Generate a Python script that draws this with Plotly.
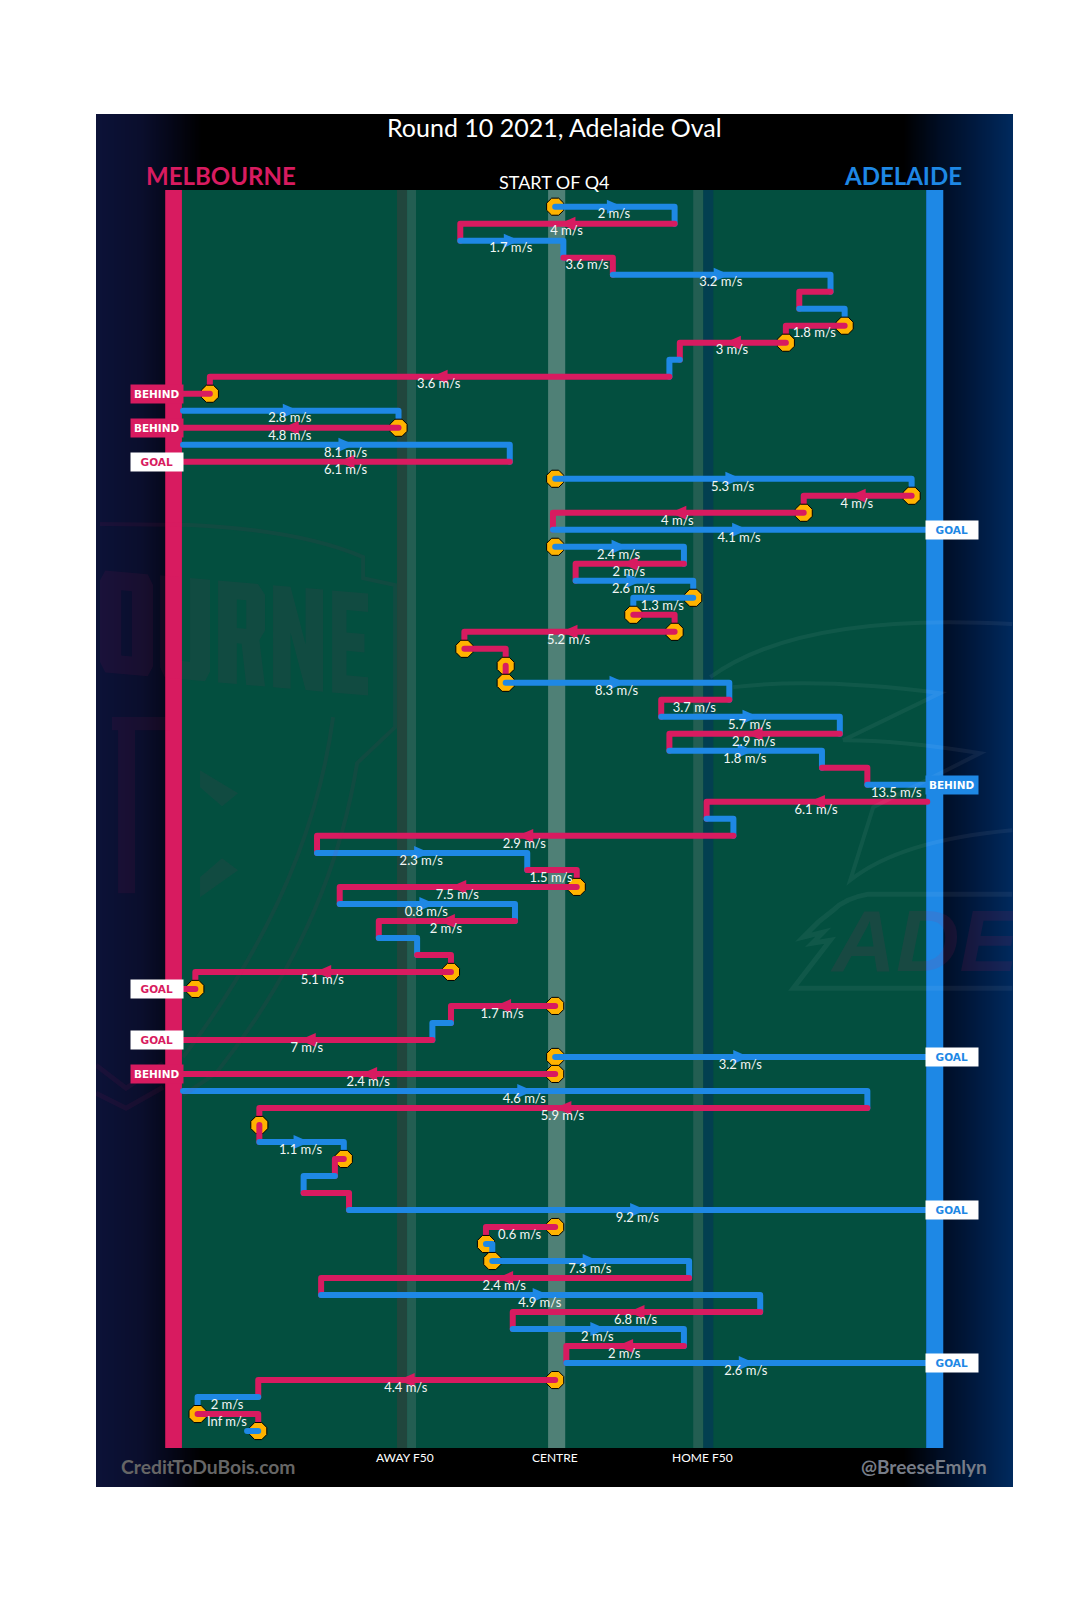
import numpy as np
import plotly.graph_objects as go

# ---- chain data: one entry per row of the chain (top to bottom) ----
x_start = [0, 32.1, -25.5, 2.2, 15.5, 74, 65.6, 77.8, 62, 33.5, 30.7, -92.8, -100, -42.1, -100, -12.2,
           0, 95.8, 66.8, -0.6, 0, 34.6, 5.5, 37.1, 21, 32.1, -24.4, -13.3, -13.3, 46.8, 28.5, 76.5,
           30.7, 71.7, 83.9, 100, 40.7, 47.9, -64, -7.5, 5.8, -57.9, -10.8, -47.4, -37.1, -28, -96.7,
           0, -28, -33, 0, 0, -100, 83.9, -79.5, -79.5, -56.8, -59.2, -67.6, -55.4, 0, -18.6, -16.9,
           36, -62.9, 55.1, -11.4, 34.6, 3, 0, -79.8, -96.1, -79.8]
x_end = [32.1, -25.5, 2.2, 15.5, 74, 65.6, 77.8, 62, 33.5, 30.7, -92.8, -100, -42.1, -100, -12.2, -100,
         95.8, 66.8, -0.6, 100, 34.6, 5.5, 37.1, 21, 32.1, -24.4, -13.3, -13.3, 46.8, 28.5, 76.5, 30.7,
         71.7, 83.9, 100, 40.7, 47.9, -64, -7.5, 5.8, -57.9, -10.8, -47.4, -37.1, -28, -96.7, -100,
         -28, -33, -100, 100, -100, 83.9, -79.5, -79.5, -56.8, -59.2, -67.6, -55.4, 100, -18.6, -16.9, 36,
         -62.9, 55.1, -11.4, 34.6, 3, 100, -79.8, -96.1, -79.8, -82.8]
teams = ("AMAMAMAMMAMMAMAM"     # rows 0-15
         "AMMA"                 # 16-19
         "AMAAMMMMA"            # 20-28
         "MAMAMA"               # 29-34
         "MAMAMMAMAMMM"         # 35-46
         "MAM"                  # 47-49
         "AM"                   # 50-51
         "AMMAMAMA"             # 52-59
         "MAA"                  # 60-62
         "MAMAMA"               # 63-68
         "MAMA")                # 69-72
speed = {0: "2", 1: "4", 2: "1.7", 3: "3.6", 4: "3.2", 7: "1.8", 8: "3", 10: "3.6", 12: "2.8", 13: "4.8",
         14: "8.1", 15: "6.1", 16: "5.3", 17: "4", 18: "4", 19: "4.1", 20: "2.4", 21: "2", 22: "2.6", 23: "1.3",
         25: "5.2", 28: "8.3", 29: "3.7", 30: "5.7", 31: "2.9", 32: "1.8", 34: "13.5", 35: "6.1", 37: "2.9",
         38: "2.3", 39: "1.5", 40: "7.5", 41: "0.8", 42: "2", 45: "5.1", 47: "1.7", 49: "7", 50: "3.2", 51: "2.4",
         52: "4.6", 53: "5.9", 55: "1.1", 59: "9.2", 60: "0.6", 62: "7.3", 63: "2.4", 64: "4.9", 65: "6.8",
         66: "2", 67: "2", 68: "2.6", 69: "4.4", 70: "2", 71: "Inf"}
stoppages = [0, 7, 8, 11, 13, 16, 17, 18, 20, 23, 24, 25, 26, 27, 28, 40, 45, 46, 47, 50, 51, 54, 56, 60, 61,
             62, 69, 71, 72]
scores = {11: "BEHIND", 13: "BEHIND", 15: "GOAL", 19: "GOAL", 34: "BEHIND", 46: "GOAL", 49: "GOAL", 50: "GOAL",
          51: "BEHIND", 59: "GOAL", 68: "GOAL"}

# ---- styling ----
PINK, BLUE = "#d81b60", "#1e88e5"
COL = {"M": PINK, "A": BLUE}
GOLD = "#ffb300"
FIELD = "#034f3f"
FONT = "Lato"
W, H = 1080, 1615
PL, PR, PT, PB = 96.0, 1012.7, 114.0, 1486.7      # panel in page pixels
X_RANGE = [-123.4, 123.04]
Y_RANGE = [75.29, -5.45]


def px(x_pixel):
    return X_RANGE[0] + (x_pixel - PL) / (PR - PL) * (X_RANGE[1] - X_RANGE[0])


def py(y_pixel):
    return Y_RANGE[1] + (y_pixel - PT) / (PB - PT) * (Y_RANGE[0] - Y_RANGE[1])


fig = go.Figure()

# panel gradient
grad_x = np.linspace(X_RANGE[0], X_RANGE[1], 247)
fig.add_trace(go.Heatmap(
    x=grad_x, y=[-10, 80], z=[grad_x, grad_x], zmin=X_RANGE[0], zmax=X_RANGE[1], zsmooth="best",
    showscale=False, hoverinfo="skip",
    colorscale=[[0, "#0c1238"], [0.05, "#0a0e2c"], [0.08, "#050719"], [0.115, "#000000"], [0.88, "#000000"],
                [0.92, "#000d24"], [0.96, "#001a40"], [1, "#002a5e"]]))


def rect(x0, x1, y0, y1, color):
    fig.add_trace(go.Scatter(x=[x0, x1, x1, x0, x0], y=[y0, y0, y1, y1, y0], mode="lines", fill="toself",
                             fillcolor=color, line=dict(width=0), hoverinfo="skip"))


Y_TOP, Y_BOT = py(190), py(1447.7)
rect(-100.3, 99.7, Y_TOP, Y_BOT, FIELD)
rect(-42.5, -39.8, Y_TOP, Y_BOT, "#21463d")
rect(-39.8, -37.4, Y_TOP, Y_BOT, "#235e52")
rect(-1.9, 2.7, Y_TOP, Y_BOT, "#4f8076")
rect(37.1, 39.8, Y_TOP, Y_BOT, "#235e52")
rect(39.8, 42.5, Y_TOP, Y_BOT, "#033f50")
rect(-104.8, -100.3, Y_TOP, Y_BOT, PINK)
rect(99.7, 104.3, Y_TOP, Y_BOT, BLUE)

# chain
LW = 6
for i, (a, b, t) in enumerate(zip(x_start, x_end, teams)):
    if i in stoppages:
        fig.add_trace(go.Scatter(x=[a], y=[i], mode="markers", hoverinfo="skip",
                                 marker=dict(symbol="octagon", size=18.5, color=GOLD,
                                             line=dict(color="black", width=1))))
    xs, ys = [a, b], [i, i]
    if i not in scores and i < len(teams) - 1:
        xs.append(b)
        ys.append(i + 1)
    fig.add_trace(go.Scatter(x=xs, y=ys, mode="lines", line=dict(color=COL[t], width=LW), hoverinfo="skip"))
    if i in speed and abs(b - a) > 20:
        d = 1 if b > a else -1
        m = (a + b) / 2
        fig.add_trace(go.Scatter(x=[m - 2.15 * d, m + 2.15 * d, m - 2.15 * d, m - 2.15 * d],
                                 y=[i - 0.41, i, i + 0.41, i - 0.41], mode="lines", fill="toself",
                                 fillcolor=COL[t], line=dict(width=0), hoverinfo="skip"))

rows = sorted(speed)
fig.add_trace(go.Scatter(
    x=[(x_start[i] + x_end[i]) / 2 - 0.25 for i in rows], y=[i + 0.5 for i in rows],
    text=[speed[i] + " m/s" for i in rows], mode="text", textposition="middle center",
    textfont=dict(family=FONT, size=13, color="#f2f6f5"), hoverinfo="skip"))

# faint club word, clipped by the plot area
fig.add_trace(go.Scatter(x=[px(925)], y=[py(949)], text=["<b><i>ADE</i></b>"], mode="text",
                         textposition="middle center",
                         textfont=dict(family="Liberation Sans", size=88, color="rgba(216,27,96,0.10)"),
                         hoverinfo="skip"))

ann = []


def label(x_pixel, y_pixel, text, size, color, anchor="center", family=FONT):
    ann.append(dict(xref="x", yref="y", x=px(x_pixel), y=py(y_pixel), text=text, showarrow=False, xanchor=anchor,
                    yanchor="middle", font=dict(family=family, size=size, color=color)))


label(554, 127, "Round 10 2021, Adelaide Oval", 25, "white")
label(144, 175, "<b>MELBOURNE</b>", 24, PINK, "left")
label(964, 175, "<b>ADELAIDE</b>", 24, BLUE, "right")
label(554, 182, "START OF Q4", 18, "white")
label(405, 1457, "AWAY F50", 12, "white")
label(554.5, 1457, "CENTRE", 12, "white")
label(702.5, 1457, "HOME F50", 12, "white")
label(119, 1466, "<b>CreditToDuBois.com</b>", 19.3, "#666666", "left")
label(989, 1466, "<b>@BreeseEmlyn</b>", 19, "#777d88", "right")

for i, what in scores.items():
    home = teams[i] == "A"
    c = BLUE if home else PINK
    goal = what == "GOAL"
    ann.append(dict(xref="x", yref="y", x=px(952 if home else 156.5), y=i, text="<b>%s</b>" % what, showarrow=False,
                    width=51.5, height=17.5, borderpad=0, bgcolor="white" if goal else c,
                    font=dict(family="DejaVu Sans", size=10.5, color=c if goal else "white")))

# faint logo outlines
WHITE_F = "rgba(255,255,255,0.055)"
PINK_F = "rgba(216,27,96,0.07)"


def path(points):
    out = ""
    for cmd, *xy in points:
        out += cmd + " ".join("%.3f,%.3f" % (px(xy[k]), py(xy[k + 1])) for k in range(0, len(xy), 2)) + " "
    return out


def stroke(points, color, width=3):
    return dict(type="path", xref="x", yref="y", line=dict(color=color, width=width), layer="above",
                path=path(points))


def filled(points, color):
    return dict(type="path", xref="x", yref="y", line=dict(width=0), fillcolor=color, layer="above",
                path=path(points))


LETTERS = {
    "O": ([(.1, 0), (.9, 0), (1, .1), (1, .9), (.9, 1), (.1, 1), (0, .9), (0, .1)],
          [(.4, .18), (.4, .82), (.6, .82), (.6, .18)]),
    "U": ([(0, 0), (.4, 0), (.4, .82), (.6, .82), (.6, 0), (1, 0), (1, .9), (.9, 1), (.1, 1), (0, .9)], None),
    "R": ([(0, 0), (.85, 0), (1, .1), (1, .45), (.88, .55), (1, 1), (.6, 1), (.5, .6), (.4, .6), (.4, 1), (0, 1)],
          [(.4, .17), (.4, .45), (.6, .45), (.6, .17)]),
    "N": ([(0, 0), (.35, 0), (.65, .55), (.65, 0), (1, 0), (1, 1), (.65, 1), (.35, .45), (.35, 1), (0, 1)], None),
    "E": ([(0, 0), (1, 0), (1, .18), (.4, .18), (.4, .4), (.9, .4), (.9, .58), (.4, .58), (.4, .82), (1, .82), (1, 1),
           (0, 1)], None),
}
# letter boxes: left, right (page px)
LETTER_BOX = [("O", 100, 153), ("U", 160, 210), ("R", 218, 265), ("N", 273, 323), ("E", 332, 368)]


def letter_path(name, left, right):
    out = []
    for poly in LETTERS[name]:
        if poly is None:
            continue
        for k, (u, v) in enumerate(poly):
            x = left + u * (right - left)
            top = 570 + 0.0875 * (x - 100)
            out.append(("M" if k == 0 else "L", x, top + v * 102))
        out.append(("Z",))
    return path(out)


shapes = [dict(type="path", xref="x", yref="y", line=dict(width=0), fillcolor=PINK_F, layer="above",
               path=letter_path(n, l, r)) for n, l, r in LETTER_BOX]
shapes += [
    stroke([("M", 710, 677), ("Q", 800, 612, 1012, 624)], WHITE_F, 4),
    stroke([("M", 733, 687), ("Q", 817, 677, 940, 693), ("L", 843, 740), ("Q", 900, 740, 980, 753),
            ("L", 873, 807), ("L", 850, 880), ("Q", 900, 840, 1012, 830)], WHITE_F, 4),
    stroke([("M", 1012, 894), ("L", 868, 894), ("Q", 845, 898, 833, 910), ("L", 818, 922), ("L", 803, 937),
            ("L", 823, 932), ("L", 812, 943), ("L", 830, 940), ("L", 793, 988), ("L", 1012, 988)], WHITE_F, 5),
    stroke([("M", 100, 524), ("L", 190, 525), ("Q", 300, 530, 363, 557), ("L", 363, 578), ("L", 395, 585),
            ("L", 395, 727), ("L", 357, 763), ("Q", 330, 930, 216, 1073), ("L", 183, 1095)], PINK_F, 4),
    stroke([("M", 333, 717), ("Q", 310, 890, 183, 1057)], PINK_F, 4),
    stroke([("M", 96, 1065), ("L", 126, 1088), ("L", 163, 1063)], PINK_F, 5),
    stroke([("M", 96, 1093), ("L", 126, 1108), ("L", 163, 1087)], PINK_F, 5),
    filled([("M", 200, 770), ("L", 238, 793), ("L", 222, 806), ("L", 200, 787), ("Z",)], PINK_F),
    filled([("M", 200, 877), ("L", 222, 858), ("L", 238, 870), ("L", 200, 897), ("Z",)], PINK_F),
    filled([("M", 112, 717), ("L", 170, 717), ("L", 170, 730), ("L", 135, 730), ("L", 135, 893),
            ("L", 118, 893), ("L", 118, 730), ("L", 112, 730), ("Z",)], PINK_F),
]

fig.update_layout(
    width=W, height=H, margin=dict(l=PL, r=W - PR, t=PT, b=H - PB, pad=0), autosize=False,
    paper_bgcolor="white", plot_bgcolor="black", showlegend=False,
    xaxis=dict(range=X_RANGE, visible=False, fixedrange=True),
    yaxis=dict(range=Y_RANGE, visible=False, fixedrange=True),
    annotations=ann, shapes=shapes)

fig.write_html("out.html", config={"displayModeBar": False},
               post_script="document.body.style.margin='0';"
                           "document.querySelectorAll('.js-line').forEach(function(p){p.style.strokeLinecap='round';p.style.strokeLinejoin='round';});")
